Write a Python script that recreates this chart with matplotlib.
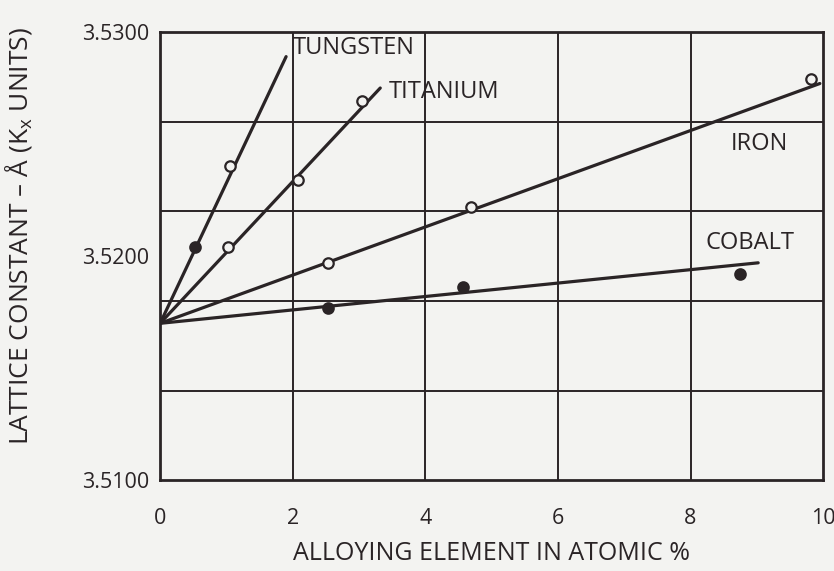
import matplotlib.pyplot as plt

# measured points (atomic %, lattice constant)
tungsten_x = [0.53, 1.06]
tungsten_y = [3.5204, 3.5240]
titanium_x = [1.03, 2.08, 3.05]
titanium_y = [3.5204, 3.5234, 3.5269]
iron_x = [2.53, 4.69, 9.82]
iron_y = [3.5197, 3.5222, 3.5279]
cobalt_x = [2.53, 4.57, 8.75]
cobalt_y = [3.5177, 3.5186, 3.5192]

# fitted lines: start (pure nickel) and end point
line_start = (0.0, 3.5170)
line_ends = {
    'TUNGSTEN': (1.90, 3.5289),
    'TITANIUM': (3.32, 3.5275),
    'IRON': (9.95, 3.5277),
    'COBALT': (9.02, 3.5197),
}
label_pos = {
    'TUNGSTEN': (2.0, 3.5293),
    'TITANIUM': (3.45, 3.5273),
    'IRON': (8.6, 3.5250),
    'COBALT': (8.22, 3.5206),
}

x_ticks = [0, 2, 4, 6, 8, 10]
y_ticks = [3.5100, 3.5200, 3.5300]
y_grid = [3.5140, 3.5180, 3.5220, 3.5260]

ink = '#2a2426'
bg = '#f3f3f1'
font = 'Open Sans'

fig = plt.figure(figsize=(8.34, 5.71), dpi=100, facecolor=bg)
ax = fig.add_axes([0.192, 0.159, 0.795, 0.785], facecolor=bg)

for name, (xe, ye) in line_ends.items():
    ax.plot([line_start[0], xe], [line_start[1], ye], color=ink, lw=2.3,
            solid_capstyle='round', zorder=3)

mk = dict(ms=7.5, mew=1.6, mec=ink, zorder=4, ls='none', marker='o')
ax.plot(tungsten_x[:1], tungsten_y[:1], mfc=ink, **mk)
ax.plot(tungsten_x[1:], tungsten_y[1:], mfc=bg, **mk)
ax.plot(titanium_x, titanium_y, mfc=bg, **mk)
ax.plot(iron_x, iron_y, mfc=bg, **mk)
ax.plot(cobalt_x, cobalt_y, mfc=ink, **mk)

for name, (tx, ty) in label_pos.items():
    ax.text(tx, ty, name, fontsize=17, color=ink, va='center', ha='left',
            fontfamily=font)

for gx in x_ticks[1:-1]:
    ax.axvline(gx, color=ink, lw=1.4, zorder=1)
for gy in y_grid:
    ax.axhline(gy, color=ink, lw=1.4, zorder=1)

ax.set_xlim(0, 10)
ax.set_ylim(3.5100, 3.5300)
ax.set_xticks(x_ticks)
ax.set_xticklabels([str(v) for v in x_ticks])
ax.set_yticks(y_ticks)
ax.set_yticklabels(['%.4f' % v for v in y_ticks])
ax.tick_params(length=0, labelsize=15.5, colors=ink)
ax.tick_params(axis='x', pad=20)
ax.tick_params(axis='y', pad=8)
for lbl in ax.get_xticklabels() + ax.get_yticklabels():
    lbl.set_fontfamily(font)
for sp in ax.spines.values():
    sp.set_color(ink)
    sp.set_linewidth(2)

ax.set_xlabel('ALLOYING ELEMENT IN ATOMIC %', fontsize=18, color=ink,
              fontfamily=font, labelpad=9)
ax.set_ylabel('LATTICE CONSTANT – Å (K$_\\mathregular{x}$ UNITS)', fontsize=19,
              color=ink, fontfamily=font)
ax.yaxis.set_label_coords(-0.19, 0.545)

fig.savefig('out.png', dpi=100, facecolor=bg)
